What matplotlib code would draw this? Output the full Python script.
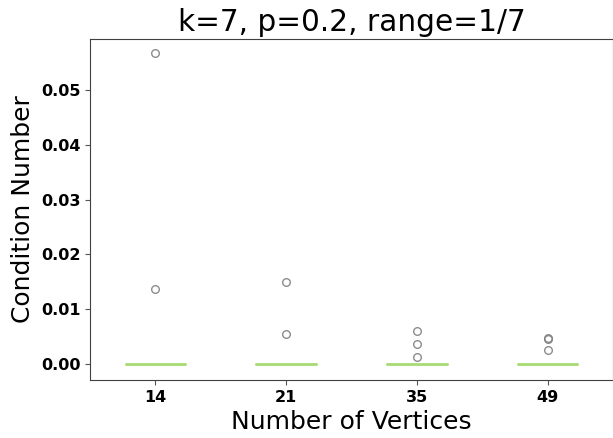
import matplotlib
matplotlib.use("Agg")
import matplotlib.pyplot as plt
import numpy as np

categories = ["14", "21", "35", "49"]
# each group: mostly zeros plus outliers
zeros_count = 40
outliers = {
    "14": [0.0568, 0.0137],
    "21": [0.0150, 0.0055],
    "35": [0.0060, 0.0037, 0.0013],
    "49": [0.0047, 0.0046, 0.0026],
}
data = [[0.0] * zeros_count + outliers[c] for c in categories]

fig = plt.figure(figsize=(6.13, 4.38), dpi=100)
ax = fig.add_axes([90/613, 1-380/438, 523/613, (380-39)/438])

ax.boxplot(data, positions=np.arange(len(categories)), widths=0.47,
           whis=1.5,
           boxprops=dict(color="#a6dc72", linewidth=0.5),
           whiskerprops=dict(color="#a6dc72", linewidth=0.5),
           capprops=dict(color="#a6dc72", linewidth=0.5),
           medianprops=dict(color="#a6dc72", linewidth=2),
           flierprops=dict(marker="o", markerfacecolor="none",
                           markeredgecolor="#808080", markersize=5.5,
                           markeredgewidth=1, alpha=0.9))
ax.set_xlim(-0.5, 3.5)
ax.set_xticks(np.arange(len(categories)))
ax.set_xticklabels(categories)
ax.set_yticks([0.0, 0.01, 0.02, 0.03, 0.04, 0.05])
ax.set_yticklabels(["0.00", "0.01", "0.02", "0.03", "0.04", "0.05"])
ax.set_ylim(-0.0029, 0.0593)
for lab in ax.get_xticklabels() + ax.get_yticklabels():
    lab.set_fontweight("bold")
    lab.set_fontsize(11.5)
ax.tick_params(colors="#555555", labelcolor="black", length=3.5)
ax.set_title("k=7, p=0.2, range=1/7", fontsize=21.3)
ax.set_xlabel("Number of Vertices", fontsize=18)
ax.set_ylabel("Condition Number", fontsize=18)
for s in ax.spines.values():
    s.set_color("#404040")
fig.savefig("out.png", dpi=100)
